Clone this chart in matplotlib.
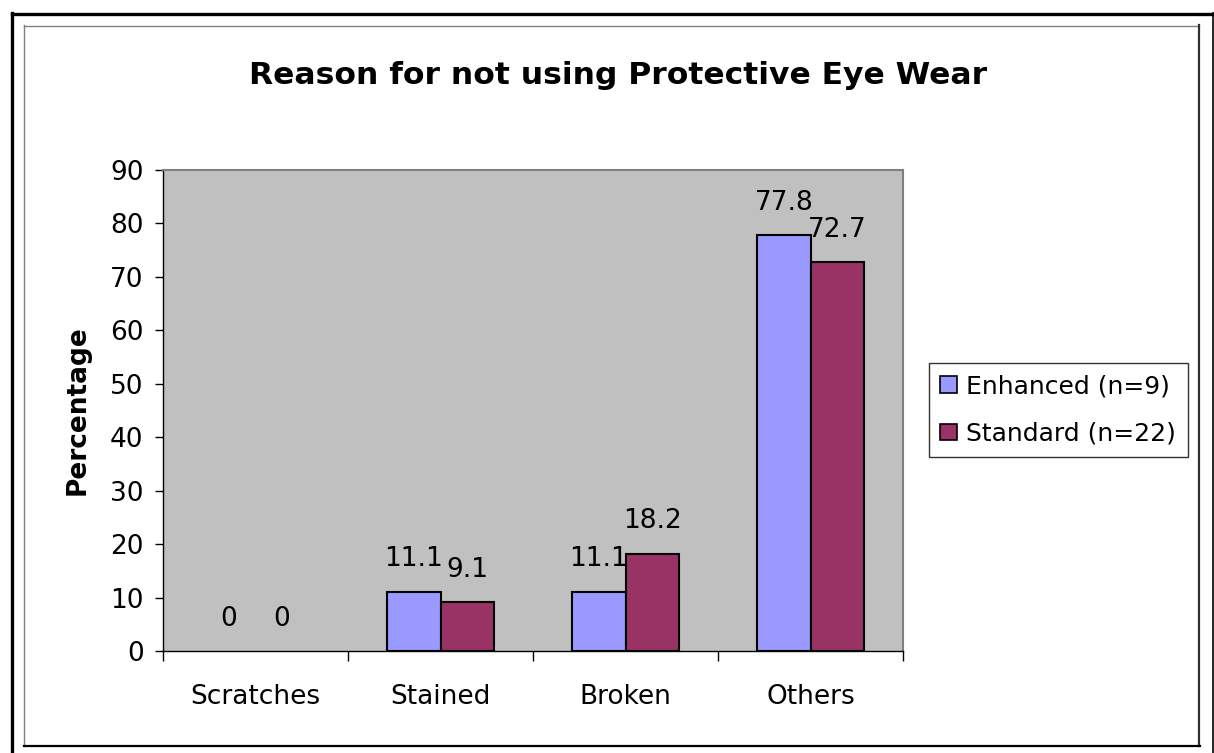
import matplotlib
matplotlib.use("Agg")
import matplotlib.pyplot as plt
from matplotlib.lines import Line2D
from matplotlib.patches import Patch
import numpy as np

categories = ["Scratches", "Stained", "Broken", "Others"]
series_names = ["Enhanced (n=9)", "Standard (n=22)"]
enhanced = [0, 11.1, 11.1, 77.8]
standard = [0, 9.1, 18.2, 72.7]
colors = ["#9999FF", "#993366"]
yticks = [0, 10, 20, 30, 40, 50, 60, 70, 80, 90]

plt.rcParams['font.family'] = ['DejaVu Sans']

W, H = 1214, 753
fig = plt.figure(figsize=(W / 100, H / 100), dpi=100)
fig.patch.set_facecolor("white")

def fx(px):
    return px / W

def fy(py):
    return 1 - py / H

# outer frame (black)
fig.add_artist(Line2D([fx(12.5), fx(12.5)], [fy(13), fy(753)], color="black", lw=2.4, transform=fig.transFigure))
fig.add_artist(Line2D([fx(12), fx(1213.5)], [fy(13.5), fy(13.5)], color="black", lw=2.4, transform=fig.transFigure))
fig.add_artist(Line2D([fx(1213), fx(1213)], [fy(13), fy(753)], color="black", lw=1.2, transform=fig.transFigure))
# inner frame
fig.add_artist(Line2D([fx(24.5), fx(24.5)], [fy(25), fy(746)], color="#808080", lw=1.0, transform=fig.transFigure))
fig.add_artist(Line2D([fx(24.5), fx(1199)], [fy(25.5), fy(25.5)], color="#808080", lw=1.0, transform=fig.transFigure))
fig.add_artist(Line2D([fx(1199), fx(1199)], [fy(25), fy(746)], color="#303030", lw=1.6, transform=fig.transFigure))
fig.add_artist(Line2D([fx(24.5), fx(1199.5)], [fy(746), fy(746)], color="black", lw=1.6, transform=fig.transFigure))

ax = fig.add_axes([fx(163), fy(651), fx(903) - fx(163), fy(170) - fy(651)])
ax.set_facecolor("#C0C0C0")

x = np.arange(len(categories))
bw = 0.287
lw1 = [1.5 if v > 0 else 0 for v in enhanced]
lw2 = [1.5 if v > 0 else 0 for v in standard]
b1 = ax.bar(x - bw / 2, enhanced, bw, color=colors[0], edgecolor="black", linewidth=lw1, zorder=3)
b2 = ax.bar(x + bw / 2, standard, bw, color=colors[1], edgecolor="black", linewidth=lw2, zorder=3)

for bars, vals in ((b1, enhanced), (b2, standard)):
    for rect, v in zip(bars, vals):
        ax.annotate(f"{v:g}", (rect.get_x() + rect.get_width() / 2, v),
                    xytext=(0, 14), textcoords="offset points",
                    ha="center", va="bottom", fontsize=19, color="black", zorder=4)

ax.set_xlim(-0.5, len(categories) - 0.5)
ax.set_ylim(0, 90)
ax.set_yticks(yticks)
ax.set_yticklabels([str(t) for t in yticks], fontsize=19)
ax.set_xticks(x)
ax.set_xticklabels(categories, fontsize=19)
ax.tick_params(axis="x", length=0, pad=24)
ax.tick_params(axis="y", length=6, width=1, direction="out", pad=8)
ax.set_xticks(np.arange(-0.5, len(categories)), minor=True)
ax.tick_params(axis="x", which="minor", length=7, width=1, direction="out")

for side in ("top", "right"):
    ax.spines[side].set_color("#808080")
    ax.spines[side].set_linewidth(1.5)
for side in ("left", "bottom"):
    ax.spines[side].set_color("black")
    ax.spines[side].set_linewidth(1.0)

ax.set_ylabel("Percentage", fontsize=19, fontweight="bold", labelpad=14)

fig.text(fx(618), fy(75), "Reason for not using Protective Eye Wear", ha="center", va="center",
         fontsize=22.6, fontweight="bold")

handles = [Patch(facecolor=c, edgecolor="black", linewidth=1.2) for c in colors]
leg = ax.legend(handles, series_names, loc="center left", bbox_to_anchor=(fx(929), fy(410)),
                bbox_transform=fig.transFigure,
                fontsize=18, frameon=True, fancybox=False, handlelength=0.65, handleheight=0.65,
                handletextpad=0.4, borderpad=0.45, labelspacing=0.95, borderaxespad=0)
leg.get_frame().set_edgecolor("black")
leg.get_frame().set_linewidth(1.0)

fig.savefig("out.png", dpi=100, facecolor="white")
